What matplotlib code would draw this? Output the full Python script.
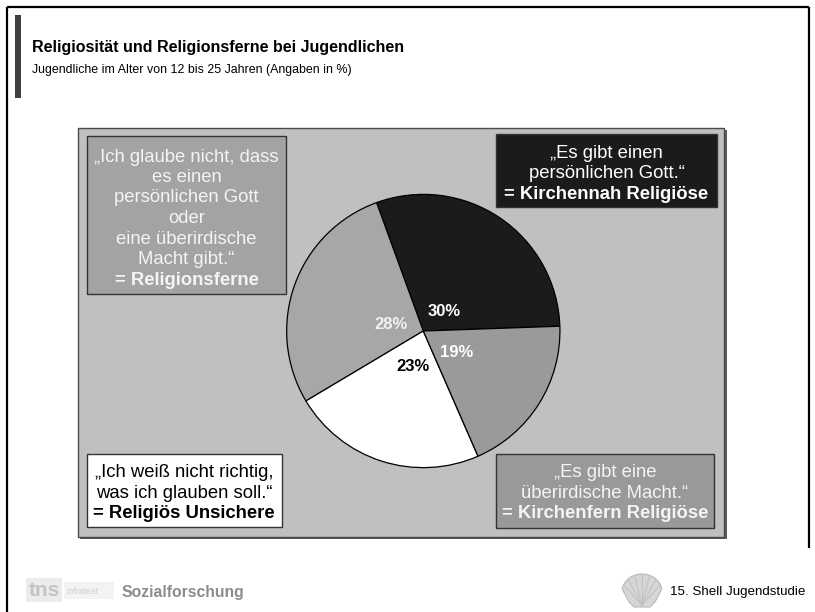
import numpy as np
import matplotlib
matplotlib.use("Agg")
import matplotlib.pyplot as plt
from matplotlib.patches import Rectangle, Polygon

plt.rcParams["font.family"] = ["Liberation Sans", "DejaVu Sans"]

# --- data -----------------------------------------------------------------
segments = ["Kirchennah Religiöse", "Religionsferne", "Religiös Unsichere", "Kirchenfern Religiöse"]
shares = [30, 28, 23, 19]

title = "Religiosität und Religionsferne bei Jugendlichen"
subtitle = "Jugendliche im Alter von 12 bis 25 Jahren (Angaben in %)"

quote_ferne = ["„Ich glaube nicht, dass", "es einen", "persönlichen Gott", "oder",
               "eine überirdische", "Macht gibt.“"]
quote_nah = ["„Es gibt einen", "persönlichen Gott.“"]
quote_unsicher = ["„Ich weiß nicht richtig,", "was ich glauben soll.“"]
quote_fern = ["„Es gibt eine", "überirdische Macht.“"]

footer_left = "Sozialforschung"
footer_right = "15. Shell Jugendstudie"

# --- styling ----------------------------------------------------------------
W, H = 815, 612
slice_colors = ["#1b1b1b", "#a7a7a7", "#ffffff", "#9a9a9a"]
pct_colors = ["#ffffff", "#f2f2f2", "#000000", "#ffffff"]
pct_radius = [0.21, 0.24, 0.27, 0.29]
pct_angle_shift = [-12, 8, 2, 0]

fig = plt.figure(figsize=(W / 100, H / 100), dpi=100)
fig.patch.set_facecolor("white")

bg = fig.add_axes([0, 0, 1, 1])
bg.set_xlim(0, W)
bg.set_ylim(H, 0)
bg.axis("off")

# slide frame and accent bar
bg.plot([7, 7], [7, H + 5], color="black", lw=1.6, solid_capstyle="butt")
bg.plot([7, 809], [7, 7], color="black", lw=1.6, solid_capstyle="butt")
bg.plot([809, 809], [7, 548], color="black", lw=1.6, solid_capstyle="butt")
bg.add_patch(Rectangle((15, 15), 5.5, 83, facecolor="#404040", edgecolor="none"))

bg.text(32, 47.5, title, fontsize=11.5, fontweight="bold",
        ha="left", va="center", color="black")
bg.text(32, 70, subtitle, fontsize=8.9,
        ha="left", va="center", color="black")

# grey chart panel with a shadow
bg.add_patch(Rectangle((80, 130), 646.5, 409, facecolor="#5a5a5a", edgecolor="none"))
bg.add_patch(Rectangle((77.5, 127.7), 646.5, 409, facecolor="#c0c0c0",
                       edgecolor="#4a4a4a", lw=1.0))


def quote_box(x0, y0, x1, y1, face, txtcolor, lines, bold_line, ys):
    bg.add_patch(Rectangle((x0, y0), x1 - x0, y1 - y0, facecolor=face,
                           edgecolor="#333333", lw=1.0, zorder=3))
    cx = (x0 + x1) / 2
    for ln, y in zip(lines, ys[:-1]):
        bg.text(cx, y, ln, fontsize=13.3, color=txtcolor, ha="center",
                va="center", zorder=4)
    bg.text(cx, ys[-1], bold_line, fontsize=13.3, fontweight="bold",
            color=txtcolor, ha="center", va="center", zorder=4)


quote_box(87.3, 135.7, 285.7, 294.3, "#a3a3a3", "#f4f4f4", quote_ferne,
          "= " + segments[1], [157, 177.5, 198, 218.5, 239, 259.5, 280.5])
quote_box(495.7, 134, 717.3, 207.3, "#1b1b1b", "#ffffff", quote_nah,
          "= " + segments[0], [153.5, 174, 194.5])
quote_box(86.7, 454, 281.7, 527.3, "#ffffff", "#000000", quote_unsicher,
          "= " + segments[2], [472.5, 493, 513.5])
quote_box(495.7, 454, 714, 528, "#999999", "#f4f4f4", quote_fern,
          "= " + segments[3], [472.5, 493, 513.5])

# footer: institute wordmark and study label
bg.add_patch(Rectangle((26, 578), 36, 24, facecolor="#ececec", edgecolor="none"))
bg.text(29, 590, "tns", fontsize=15, fontweight="bold", color="#c4c4c4",
        ha="left", va="center")
bg.add_patch(Rectangle((64, 582), 50, 17, facecolor="#f3f3f3", edgecolor="none"))
bg.text(66, 591, "infratest", fontsize=6.5, color="#d0d0d0", ha="left", va="center")
bg.text(121, 592, footer_left, fontsize=11.3, fontweight="bold", color="#8c8c8c",
        ha="left", va="center")

# simple scallop emblem
cxs, cys = 642, 588
t = np.linspace(np.pi * 0.95, np.pi * 0.05, 40)
arc = np.column_stack([cxs + 20 * np.cos(t), cys - 18 * np.sin(t) + 4])
outline = np.vstack([arc, [[cxs + 13, cys + 14], [cxs + 8, cys + 19],
                           [cxs - 8, cys + 19], [cxs - 13, cys + 14]]])
bg.add_patch(Polygon(outline, closed=True, facecolor="#d6d6d6",
                     edgecolor="#b8b8b8", lw=0.8))
for ang in np.linspace(np.pi * 0.88, np.pi * 0.12, 7):
    bg.plot([cxs, cxs + 19 * np.cos(ang)], [cys + 17, cys + 4 - 17 * np.sin(ang)],
            color="#bdbdbd", lw=0.6)

bg.text(670, 592, footer_right, fontsize=9.6, color="black", ha="left",
        va="center")

# --- pie ------------------------------------------------------------------
cx, cy, r = 423.3, 331.0, 138.0
pax = fig.add_axes([(cx - r) / W, (H - cy - r) / H, 2 * r / W, 2 * r / H])
wedges, _, autotexts = pax.pie(
    shares, colors=slice_colors, startangle=2, counterclock=True,
    autopct=lambda p: f"{p:.0f}%", pctdistance=0.25,
    wedgeprops=dict(edgecolor="black", linewidth=0.9),
    textprops=dict(fontsize=12, fontweight="bold"))
pax.set_xlim(-1.01, 1.01)
pax.set_ylim(-1.01, 1.01)
pax.set_aspect("equal")
pax.axis("off")

for w, txt, col, rr, sh in zip(wedges, autotexts, pct_colors, pct_radius, pct_angle_shift):
    mid = np.deg2rad((w.theta1 + w.theta2) / 2 + sh)
    txt.set_position((rr * np.cos(mid), rr * np.sin(mid)))
    txt.set_color(col)

fig.savefig("out.png", dpi=100, facecolor="white")
